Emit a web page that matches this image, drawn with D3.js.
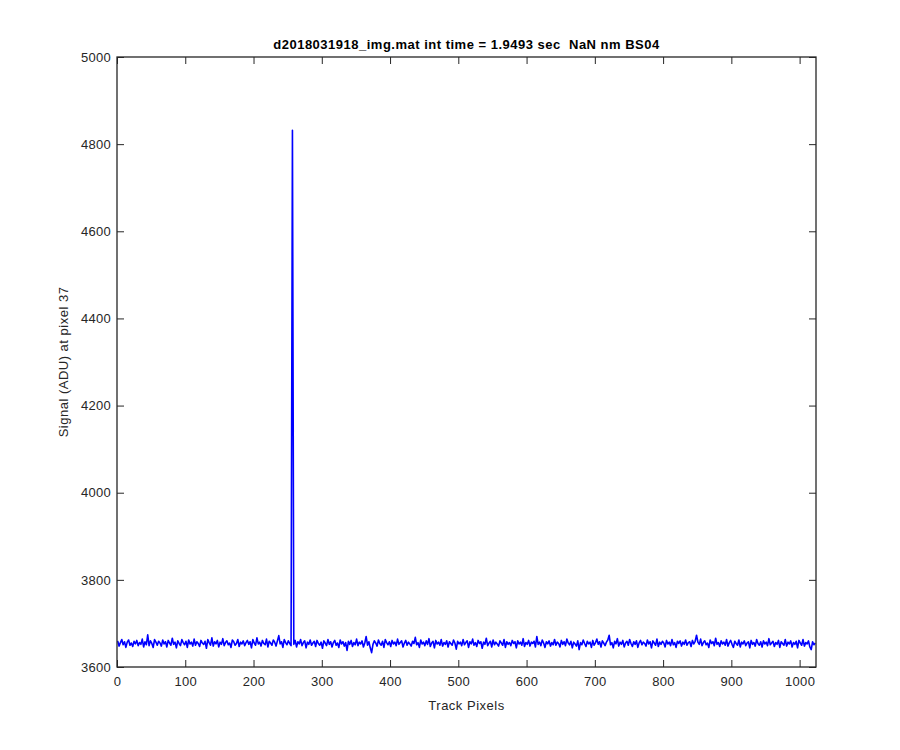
<!DOCTYPE html>
<html lang="en">
<head>
<meta charset="utf-8">
<script src="https://d3js.org/d3.v7.min.js"></script>
<style>
  body { margin: 0; background: #fff; }
  text { font-family: "Liberation Sans", Arial, sans-serif; }
</style>
</head>
<body>
<script type="text/javascript">
  var w = 900;
  var h = 750;

  var titleText = "d2018031918_img.mat int time = 1.9493 sec  NaN nm BS04";
  var xLabel = "Track Pixels";
  var yLabel = "Signal (ADU) at pixel 37";

  var xTicks = [0, 100, 200, 300, 400, 500, 600, 700, 800, 900, 1000];
  var yTicks = [3600, 3800, 4000, 4200, 4400, 4600, 4800, 5000];

  // signal, one value every 2nd track pixel (1, 3, 5, ... 1023)
  var signal = [
    3660, 3648, 3656, 3663, 3651, 3658, 3645, 3657, 3662, 3650, 3655, 3647, 3659, 3653, 3661, 3649,
    3656, 3652, 3664, 3646, 3658, 3651, 3674, 3649, 3660, 3654, 3645, 3663, 3657, 3650, 3659, 3655,
    3648, 3662, 3653, 3658, 3646, 3661, 3655, 3650, 3666, 3652, 3657, 3644, 3660, 3654, 3649, 3663,
    3656, 3651, 3659, 3645, 3662, 3653, 3657, 3648, 3664, 3650, 3658, 3654, 3647, 3661, 3655, 3652,
    3659, 3643, 3663, 3656, 3650, 3667, 3648, 3658, 3653, 3661, 3646, 3657, 3652, 3665, 3649, 3656,
    3660, 3651, 3655, 3645, 3662, 3658, 3650, 3654, 3663, 3647, 3657, 3653, 3660, 3649, 3656, 3661,
    3652, 3658, 3644, 3663, 3655, 3650, 3667, 3653, 3657, 3648, 3661, 3654, 3651, 3664, 3646, 3659,
    3655, 3650, 3662, 3657, 3648, 3660, 3672, 3653, 3658, 3645, 3663, 3656, 3651, 3660, 3654, 3649,
    4832, 3652, 3661, 3646, 3658, 3653, 3663, 3649, 3656, 3660, 3644, 3657, 3652, 3662, 3650, 3655,
    3659, 3647, 3661, 3654, 3650, 3657, 3643, 3660, 3655, 3649, 3663, 3652, 3658, 3646, 3656, 3661,
    3650, 3655, 3645, 3662, 3653, 3658, 3648, 3656, 3638, 3659, 3652, 3661, 3647, 3656, 3651, 3664,
    3649, 3657, 3653, 3660, 3646, 3655, 3670, 3650, 3658, 3644, 3633, 3652, 3660, 3655, 3648, 3662,
    3654, 3650, 3659, 3645, 3663, 3656, 3651, 3658, 3647, 3661, 3653, 3657, 3649, 3664, 3652, 3656,
    3660, 3646, 3655, 3661, 3650, 3657, 3653, 3648, 3659, 3654, 3668, 3651, 3656, 3645, 3662, 3653,
    3657, 3649, 3660, 3652, 3665, 3647, 3655, 3659, 3644, 3661, 3653, 3657, 3650, 3663, 3648, 3656,
    3652, 3660, 3646, 3658, 3654, 3650, 3662, 3655, 3641, 3659, 3653, 3657, 3649, 3663, 3651, 3656,
    3660, 3645, 3658, 3653, 3664, 3650, 3656, 3647, 3661, 3654, 3658, 3643, 3657, 3652, 3666, 3649,
    3655, 3659, 3646, 3662, 3651, 3657, 3653, 3648, 3660, 3655, 3650, 3663, 3645, 3658, 3652, 3656,
    3649, 3661, 3654, 3658, 3644, 3660, 3653, 3657, 3650, 3665, 3647, 3656, 3652, 3661, 3648, 3657,
    3654, 3659, 3646, 3670, 3652, 3657, 3649, 3662, 3655, 3645, 3658, 3653, 3660, 3648, 3656, 3651,
    3663, 3650, 3657, 3654, 3646, 3661, 3652, 3658, 3649, 3664, 3655, 3651, 3659, 3644, 3657, 3653,
    3648, 3660, 3640, 3656, 3651, 3662, 3654, 3647, 3659, 3653, 3657, 3645, 3661, 3650, 3656, 3664,
    3652, 3658, 3646, 3660, 3655, 3649, 3657, 3662, 3673, 3651, 3656, 3644, 3659, 3653, 3665, 3648,
    3657, 3652, 3661, 3646, 3655, 3659, 3650, 3663, 3654, 3647, 3658, 3652, 3660, 3645, 3656, 3661,
    3651, 3657, 3654, 3648, 3662, 3653, 3658, 3644, 3660, 3655, 3650, 3664, 3647, 3657, 3652, 3659,
    3655, 3646, 3661, 3653, 3657, 3649, 3663, 3651, 3656, 3645, 3659, 3654, 3660, 3648, 3657, 3652,
    3662, 3650, 3656, 3658, 3647, 3661, 3653, 3659, 3673, 3657, 3652, 3664, 3649, 3656, 3660, 3651,
    3655, 3645, 3662, 3654, 3658, 3649, 3666, 3652, 3656, 3647, 3660, 3653, 3657, 3650, 3663, 3648,
    3656, 3661, 3652, 3645, 3659, 3654, 3650, 3662, 3646, 3657, 3653, 3660, 3649, 3655, 3658, 3644,
    3661, 3652, 3656, 3648, 3663, 3654, 3650, 3658, 3646, 3660, 3653, 3657, 3649, 3665, 3651, 3655,
    3659, 3647, 3656, 3652, 3661, 3645, 3658, 3654, 3650, 3663, 3648, 3657, 3653, 3660, 3646, 3656,
    3652, 3659, 3644, 3661, 3655, 3650, 3663, 3648, 3656, 3653, 3660, 3646, 3640, 3658, 3651, 3655
  ];

  var margin = {left: 117, right: 84, top: 57, bottom: 83};
  var pw = w - margin.left - margin.right;
  var ph = h - margin.top - margin.bottom;
  var axisColor = "#262626";

  var svg = d3.select("body")
          .append("svg")
          .attr("width", w)
          .attr("height", h);

  var x = d3.scaleLinear().domain([0, 1024]).range([0, pw]);
  var y = d3.scaleLinear().domain([3600, 5000]).range([ph, 0]);

  var g = svg.append("g")
          .attr("transform", `translate(${margin.left},${margin.top})`);

  g.append("rect")
    .attr("width", pw)
    .attr("height", ph)
    .attr("fill", "#fff");

  // data line
  var line = d3.line()
          .x(function (d, i) { return x(1 + 2 * i); })
          .y(function (d) { return y(d); });

  g.append("path")
    .datum(signal)
    .attr("fill", "none")
    .attr("stroke", "#0000ff")
    .attr("stroke-width", 1.6)
    .attr("stroke-linejoin", "round")
    .attr("d", line);

  // axes, ticks pointing inward on all four sides
  var tl = 7;
  var fmt = d3.format("d");
  function styleAxis(sel) {
    sel.select(".domain").remove();
    sel.selectAll(".tick line").attr("stroke", axisColor).attr("stroke-width", 1);
    sel.selectAll(".tick text")
      .attr("fill", axisColor)
      .style("font-size", "13px")
      .style("letter-spacing", "0.3px");
  }

  g.append("g")
    .attr("transform", `translate(0,${ph})`)
    .call(d3.axisBottom(x).tickValues(xTicks).tickFormat(fmt).tickSizeInner(-tl).tickSizeOuter(0).tickPadding(10))
    .call(styleAxis);

  g.append("g")
    .call(d3.axisTop(x).tickValues(xTicks).tickSizeInner(-tl).tickSizeOuter(0).tickFormat(""))
    .call(styleAxis);

  g.append("g")
    .call(d3.axisLeft(y).tickValues(yTicks).tickFormat(fmt).tickSizeInner(-tl).tickSizeOuter(0).tickPadding(6))
    .call(styleAxis);

  g.append("g")
    .attr("transform", `translate(${pw},0)`)
    .call(d3.axisRight(y).tickValues(yTicks).tickSizeInner(-tl).tickSizeOuter(0).tickFormat(""))
    .call(styleAxis);

  g.append("rect")
    .attr("width", pw)
    .attr("height", ph)
    .attr("fill", "none")
    .attr("stroke", axisColor)
    .attr("stroke-width", 1.3);

  // labels
  svg.append("text")
    .attr("x", margin.left + pw / 2)
    .attr("y", 49)
    .attr("text-anchor", "middle")
    .style("font-size", "13px")
    .style("letter-spacing", "0.5px")
    .style("font-weight", "bold")
    .style("white-space", "pre")
    .attr("fill", "#000")
    .text(titleText);

  svg.append("text")
    .attr("x", margin.left + pw / 2)
    .attr("y", 710)
    .attr("text-anchor", "middle")
    .style("font-size", "13px")
    .style("letter-spacing", "0.5px")
    .attr("fill", axisColor)
    .text(xLabel);

  svg.append("text")
    .attr("transform", `translate(68,${margin.top + ph / 2}) rotate(-90)`)
    .attr("text-anchor", "middle")
    .style("font-size", "13px")
    .style("letter-spacing", "0.5px")
    .attr("fill", axisColor)
    .text(yLabel);
</script>
</body>
</html>
